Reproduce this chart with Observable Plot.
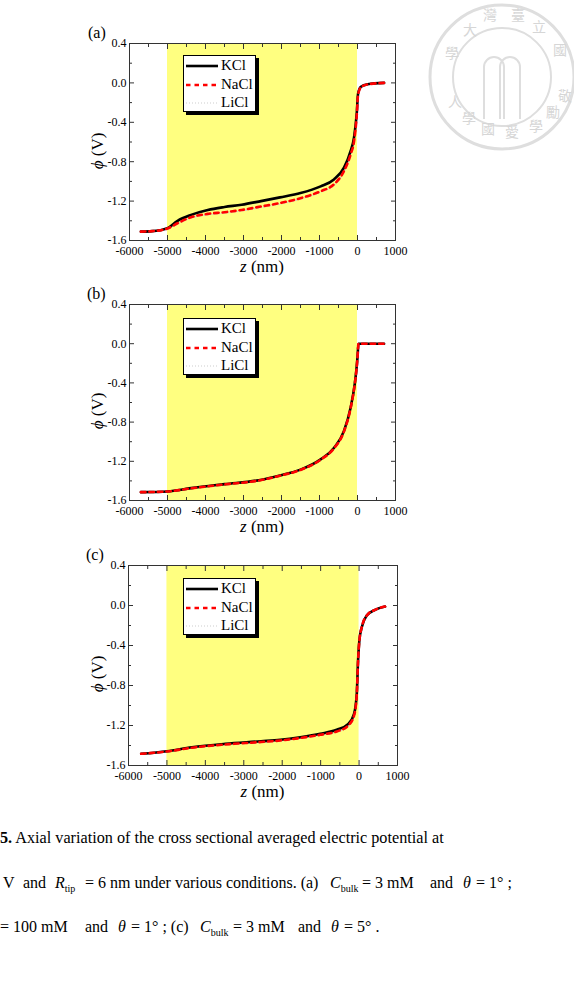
<!DOCTYPE html>
<html><head><meta charset="utf-8">
<script src="https://cdn.jsdelivr.net/npm/d3@7"></script>
<script src="https://cdn.jsdelivr.net/npm/@observablehq/plot@0.6"></script>
<style>
body{margin:0;background:#fff;}
#root{position:relative;width:574px;height:1006px;overflow:hidden;font-family:"Liberation Serif","Times New Roman",serif;color:#000;}
.abs{position:absolute;line-height:1;white-space:pre;}
.legend{position:absolute;background:#fff;border:1px solid #000;box-shadow:3px 3px 0 #000;width:73px;height:57px;box-sizing:border-box;}
.legend .row{position:absolute;left:0;height:18px;width:72px;}
.legend .row span{position:absolute;left:37px;top:1px;font-size:15px;line-height:1;}
.legend svg{position:absolute;left:1px;top:0;}
sub{font-size:10px;line-height:0;}
</style></head><body><div id="root"></div>
<script>
// ---------- data ----------
const salts = ["KCl", "NaCl", "LiCl"];
const panelLabels = ["(a)", "(b)", "(c)"];
const xTicks = [-6000, -5000, -4000, -3000, -2000, -1000, 0, 1000];
const xMinorTicks = [-5500, -4500, -3500, -2500, -1500, -500, 500];
const yTicks = [0.4, 0.0, -0.4, -0.8, -1.2, -1.6];
const yMinorTicks = [0.2, -0.2, -0.6, -1.0, -1.4];
const channelRange = [-5000, 0];

// panel (a): C_bulk = 3 mM, theta = 1°
const zA    = [-5700, -5400, -5200, -5000, -4735, -4380, -3940, -3500, -3050, -2540, -2040, -1500, -970, -620, -355, -180, -90, -20, 15, 90, 265, 700];
const kclA  = [-1.51, -1.505, -1.495, -1.475, -1.40, -1.34, -1.29, -1.26, -1.237, -1.20, -1.162, -1.118, -1.05, -0.98, -0.86, -0.69, -0.55, -0.31, -0.11, -0.04, -0.013, 0.0];
const naclA = [-1.51, -1.505, -1.497, -1.478, -1.425, -1.364, -1.33, -1.313, -1.29, -1.255, -1.22, -1.17, -1.10, -1.03, -0.895, -0.724, -0.59, -0.33, -0.12, -0.045, -0.015, 0.0];
const liclA = [-1.51, -1.506, -1.499, -1.482, -1.432, -1.372, -1.34, -1.322, -1.30, -1.265, -1.23, -1.18, -1.11, -1.04, -0.905, -0.735, -0.60, -0.335, -0.12, -0.045, -0.015, 0.0];

// panel (b): C_bulk = 100 mM, theta = 1°
const zB    = [-5700, -5000, -4380, -3500, -2600, -2040, -1500, -970, -620, -355, -180, -72, -30, 0, 26, 700];
const kclB  = [-1.515, -1.508, -1.474, -1.433, -1.393, -1.344, -1.285, -1.18, -1.064, -0.89, -0.65, -0.41, -0.27, -0.14, 0.0, 0.0];
const naclB = [-1.515, -1.508, -1.476, -1.436, -1.396, -1.347, -1.288, -1.184, -1.068, -0.895, -0.655, -0.415, -0.275, -0.14, 0.0, 0.0];
const liclB = [-1.515, -1.509, -1.478, -1.438, -1.398, -1.349, -1.29, -1.186, -1.07, -0.897, -0.657, -0.417, -0.277, -0.14, 0.0, 0.0];

// panel (c): C_bulk = 3 mM, theta = 5°
const zC    = [-5670, -5000, -4350, -3480, -2550, -2050, -1530, -1010, -580, -280, -130, -60, -26, 8, 70, 200, 416, 676];
const kclC  = [-1.483, -1.457, -1.417, -1.383, -1.358, -1.343, -1.317, -1.283, -1.243, -1.183, -1.083, -0.883, -0.55, -0.35, -0.217, -0.10, -0.043, -0.01];
const naclC = [-1.483, -1.46, -1.422, -1.39, -1.365, -1.35, -1.325, -1.293, -1.26, -1.20, -1.10, -0.89, -0.55, -0.35, -0.217, -0.10, -0.043, -0.01];
const liclC = [-1.485, -1.463, -1.426, -1.394, -1.37, -1.355, -1.33, -1.298, -1.265, -1.21, -1.11, -0.895, -0.555, -0.35, -0.217, -0.10, -0.043, -0.01];

// ---------- styles ----------
const lineStyle = {
  KCl:  {stroke: "#000000", strokeWidth: 2.6},
  NaCl: {stroke: "#ff0000", strokeWidth: 2.6, strokeDasharray: "4.5,4"},
  LiCl: {stroke: "#cdcdcd", strokeWidth: 1.2, strokeDasharray: "1,2"}
};
const FONT = "'Liberation Serif','Times New Roman',serif";

const panels = [
  {z: zA, series: {KCl: kclA, NaCl: naclA, LiCl: liclA}, svgTop: 0,   frameH: 197, mL: 129, mR: 179, legendTop: 55,  labelLeft: 88},
  {z: zB, series: {KCl: kclB, NaCl: naclB, LiCl: liclB}, svgTop: 261, frameH: 196, mL: 129, mR: 179, legendTop: 318, labelLeft: 87},
  {z: zC, series: {KCl: kclC, NaCl: naclC, LiCl: liclC}, svgTop: 522, frameH: 200, mL: 128, mR: 177, legendTop: 578, labelLeft: 86}
];

const root = document.getElementById("root");
const MT = 43, MB = 40;

function addDiv(html, css, cls = "abs") {
  const d = document.createElement("div");
  d.className = cls;
  d.innerHTML = html;
  Object.assign(d.style, css);
  root.appendChild(d);
  return d;
}

panels.forEach((p, pi) => {
  const rows = name => p.z.map((z, i) => ({z, phi: p.series[name][i], salt: name}));
  const tickOpts = {stroke: "#333"};
  const chart = Plot.plot({
    width: 574,
    height: MT + p.frameH + MB,
    marginTop: MT, marginBottom: MB, marginLeft: p.mL, marginRight: p.mR,
    x: {domain: [-6000, 1000]},
    y: {domain: [-1.6, 0.4]},
    style: {fontFamily: FONT, fontSize: "12px", color: "#000", background: "transparent", overflow: "visible"},
    marks: [
      Plot.rect([channelRange], {x1: d => d[0], x2: d => d[1], fill: "#ffff80"}),
      Plot.line(rows("LiCl"), {x: "z", y: "phi", curve: "monotone-x", ...lineStyle.LiCl}),
      Plot.line(rows("KCl"), {x: "z", y: "phi", curve: "monotone-x", ...lineStyle.KCl}),
      Plot.line(rows("NaCl"), {x: "z", y: "phi", curve: "monotone-x", ...lineStyle.NaCl}),
      Plot.frame({stroke: "#333", strokeWidth: 1}),
      Plot.axisX(xTicks, {anchor: "bottom", tickSize: -5, tickPadding: 11, tickFormat: d => String(d), label: null, ...tickOpts}),
      Plot.axisX(xMinorTicks, {anchor: "bottom", tickSize: -3, tickFormat: () => "", label: null, ...tickOpts}),
      Plot.axisX(xTicks, {anchor: "top", tickSize: -5, tickFormat: () => "", label: null, ...tickOpts}),
      Plot.axisX(xMinorTicks, {anchor: "top", tickSize: -3, tickFormat: () => "", label: null, ...tickOpts}),
      Plot.axisY(yTicks, {anchor: "left", tickSize: -5, tickPadding: 8, tickFormat: d => d.toFixed(1), label: null, ...tickOpts}),
      Plot.axisY(yMinorTicks, {anchor: "left", tickSize: -3, tickFormat: () => "", label: null, ...tickOpts}),
      Plot.axisY(yTicks, {anchor: "right", tickSize: -5, tickFormat: () => "", label: null, ...tickOpts}),
      Plot.axisY(yMinorTicks, {anchor: "right", tickSize: -3, tickFormat: () => "", label: null, ...tickOpts})
    ]
  });
  chart.style.position = "absolute";
  chart.style.left = "0px";
  chart.style.top = p.svgTop + "px";
  root.appendChild(chart);

  const frameTop = p.svgTop + MT;
  const frameBottom = frameTop + p.frameH;
  const frameMid = (frameTop + frameBottom) / 2;
  const xCenter = (p.mL + (574 - p.mR)) / 2;

  // panel label
  addDiv(panelLabels[pi], {left: p.labelLeft + "px", top: (frameTop - 18) + "px", fontSize: "16px"});
  // x axis title
  addDiv("<i>z</i> (nm)", {left: xCenter + "px", top: (frameBottom + 18) + "px", fontSize: "17px", transform: "translateX(-50%)"});
  // y axis title
  addDiv("<i>ϕ</i> (V)", {left: "97px", top: (frameMid + 9) + "px", fontSize: "17px", transform: "translate(-50%,-50%) rotate(-90deg)"});

  // legend
  const lg = document.createElement("div");
  lg.className = "legend";
  lg.style.left = "183px";
  lg.style.top = p.legendTop + "px";
  salts.forEach((s, i) => {
    const st = lineStyle[s];
    const r = document.createElement("div");
    r.className = "row";
    r.style.top = (1 + i * 18.5) + "px";
    r.innerHTML = `<svg width="34" height="18"><line x1="1" x2="33" y1="9" y2="9" stroke="${st.stroke}" stroke-width="${st.strokeWidth}" ${st.strokeDasharray ? `stroke-dasharray="${st.strokeDasharray}"` : ""}/></svg><span>${s}</span>`;
    lg.appendChild(r);
  });
  root.appendChild(lg);
});

// caption
addDiv("<b>5.</b> Axial variation of the cross sectional averaged electric potential at", {left: "0px", top: "830px", fontSize: "16.2px"});
const cap2 = [
  [3, "V"], [23, "and"], [55, "<i>R</i><sub>tip</sub>"], [85, "= 6 nm under various conditions. (a)"],
  [330, "<i>C</i><sub>bulk</sub>"], [362, "= 3 mM"], [430, "and"], [463, "<i>θ</i>"], [476, "= 1° ;"]
];
cap2.forEach(([x, t]) => addDiv(t, {left: x + "px", top: "875px", fontSize: "16px"}));
const cap3 = [
  [0, "= 100 mM"], [85, "and"], [118, "<i>θ</i>"], [131, "= 1° ; (c)"],
  [200, "<i>C</i><sub>bulk</sub>"], [233, "= 3 mM"], [298, "and"], [331, "<i>θ</i>"], [344, "= 5° ."]
];
cap3.forEach(([x, t]) => addDiv(t, {left: x + "px", top: "919px", fontSize: "16px"}));

// faint university seal watermark (decoration)
const seal = document.createElementNS("http://www.w3.org/2000/svg", "svg");
seal.setAttribute("width", "160");
seal.setAttribute("height", "160");
seal.style.position = "absolute";
seal.style.left = "422px";
seal.style.top = "-3px";
seal.innerHTML = `
<g fill="none" stroke="#dedede">
<circle cx="80" cy="80" r="72" stroke-width="3"/>
<circle cx="80" cy="80" r="49" stroke-width="2"/>
<path d="M62 122 V70 a10 10 0 0 1 20 0 V122 M78 122 V70 a10 10 0 0 1 20 0 V122" stroke-width="2"/>
</g>
<g fill="#d6d6d6" font-family="'Noto Sans CJK TC'" font-size="14" text-anchor="middle" dominant-baseline="central">
<text x="30" y="55">學</text><text x="48" y="32">大</text><text x="68" y="17">灣</text>
<text x="96" y="17">臺</text><text x="117" y="29">立</text><text x="138" y="52">國</text>
<text x="33" y="104">人</text><text x="47" y="120">學</text><text x="66" y="131">國</text>
<text x="90" y="134">愛</text><text x="114" y="128">學</text><text x="131" y="114">勵</text><text x="143" y="98">敬</text>
</g>`;
root.appendChild(seal);
</script>
</body></html>
